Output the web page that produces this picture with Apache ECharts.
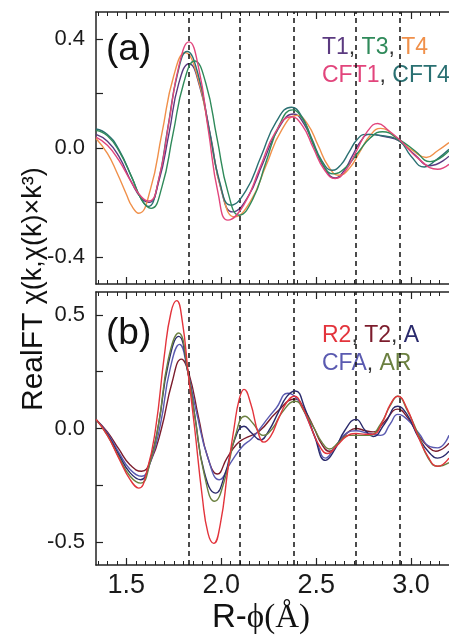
<!DOCTYPE html>
<html><head><meta charset="utf-8">
<script src="https://cdn.jsdelivr.net/npm/echarts@6/dist/echarts.min.js"></script>
<style>html,body{margin:0;padding:0;background:#fff}#c{width:449px;height:639px}</style>
</head><body><div id="c"></div><script>
// ---- data ----
const xMin = 1.34, xMax = 3.2;
const xTickValues = [1.5, 2.0, 2.5, 3.0];
const yTicksA = [-0.4, -0.2, 0, 0.2, 0.4];
const yLabelsA = [-0.4, 0, 0.4];
const yTicksB = [-0.5, -0.25, 0, 0.25, 0.5];
const yLabelsB = [-0.5, 0, 0.5];
const dashedX = [1.83, 2.097, 2.383, 2.707, 2.94];

// panel (a)
const T1 = [[1.34,0.05],[1.40,0.025],[1.46,-0.03],[1.53,-0.13],[1.58,-0.185],[1.62,-0.20],[1.67,-0.125],[1.725,0.055],[1.775,0.235],[1.83,0.31],[1.885,0.23],[1.945,0.04],[2.00,-0.155],[2.06,-0.235],[2.14,-0.18],[2.22,-0.055],[2.30,0.07],[2.38,0.125],[2.435,0.09],[2.49,0.005],[2.545,-0.075],[2.60,-0.11],[2.645,-0.085],[2.69,-0.03],[2.735,0.025],[2.78,0.05],[2.86,0.042],[2.94,0.025],[3.02,-0.025],[3.10,-0.065],[3.20,-0.03]];
const T3 = [[1.34,0.065],[1.40,0.045],[1.46,-0.01],[1.53,-0.11],[1.58,-0.19],[1.63,-0.222],[1.6875,-0.143],[1.745,0.049],[1.8025,0.24],[1.86,0.32],[1.919,0.237],[1.9775,0.0365],[2.036,-0.164],[2.095,-0.247],[2.165,-0.19],[2.235,-0.0535],[2.305,0.083],[2.375,0.14],[2.43,0.105],[2.48,0.0225],[2.535,-0.06],[2.59,-0.095],[2.655,-0.072],[2.72,-0.0175],[2.785,0.037],[2.85,0.06],[2.94,0.03],[3.02,-0.01],[3.10,-0.05],[3.20,-0.01]];
const T4 = [[1.34,0.035],[1.40,-0.02],[1.45,-0.09],[1.50,-0.17],[1.53,-0.215],[1.565,-0.24],[1.626,-0.154],[1.6875,0.055],[1.749,0.264],[1.81,0.35],[1.875,0.262],[1.94,0.0485],[2.005,-0.165],[2.07,-0.253],[2.1525,-0.198],[2.235,-0.0665],[2.3175,0.065],[2.40,0.12],[2.455,0.088],[2.51,0.01],[2.565,-0.068],[2.62,-0.10],[2.675,-0.075],[2.73,-0.014],[2.785,0.047],[2.84,0.072],[2.94,0.025],[3.01,-0.01],[3.08,-0.035],[3.14,-0.01],[3.20,0.02]];
const CFT1 = [[1.34,0.04],[1.40,0.01],[1.46,-0.045],[1.53,-0.13],[1.58,-0.18],[1.62,-0.195],[1.6725,-0.109],[1.725,0.0975],[1.7775,0.304],[1.83,0.39],[1.881,0.294],[1.9325,0.0625],[1.984,-0.169],[2.035,-0.265],[2.119,-0.209],[2.2025,-0.075],[2.286,0.059],[2.37,0.115],[2.4275,0.082],[2.485,0.0],[2.5425,-0.079],[2.60,-0.112],[2.656,-0.082],[2.7125,-0.011],[2.769,0.06],[2.825,0.09],[2.88,0.065],[2.94,0.03],[3.04,-0.04],[3.14,-0.078],[3.20,-0.06]];
const CFT4 = [[1.34,0.07],[1.40,0.05],[1.46,-0.005],[1.53,-0.11],[1.58,-0.19],[1.615,-0.215],[1.666,-0.131],[1.7175,0.07],[1.769,0.271],[1.82,0.355],[1.8775,0.272],[1.935,0.0725],[1.9925,-0.127],[2.05,-0.21],[2.13,-0.157],[2.21,-0.03],[2.29,0.097],[2.37,0.15],[2.424,0.116],[2.4775,0.034],[2.531,-0.048],[2.585,-0.082],[2.629,-0.063],[2.6725,-0.016],[2.716,0.031],[2.76,0.05],[2.85,0.045],[2.94,0.025],[3.00,-0.03],[3.07,-0.07],[3.13,-0.045],[3.20,-0.005]];

// panel (b)
const R2 = [[1.34,0.04],[1.40,-0.03],[1.46,-0.13],[1.52,-0.225],[1.565,-0.262],[1.61,-0.18],[1.654,0.0],[1.70,0.32],[1.735,0.51],[1.765,0.562],[1.795,0.47],[1.826,0.24],[1.86,0.0],[1.90,-0.30],[1.93,-0.46],[1.96,-0.505],[1.995,-0.42],[2.035,-0.18],[2.067,0.0],[2.095,0.13],[2.12,0.172],[2.155,0.11],[2.195,-0.02],[2.225,-0.06],[2.26,-0.035],[2.30,0.04],[2.345,0.115],[2.385,0.142],[2.43,0.09],[2.475,0.0],[2.52,-0.08],[2.56,-0.11],[2.61,-0.075],[2.66,-0.035],[2.71,-0.022],[2.76,-0.025],[2.80,-0.025],[2.85,0.03],[2.89,0.105],[2.93,0.142],[2.98,0.085],[3.03,-0.02],[3.09,-0.125],[3.14,-0.166],[3.20,-0.13]];
const T2 = [[1.34,0.04],[1.40,-0.015],[1.46,-0.09],[1.52,-0.16],[1.58,-0.188],[1.63,-0.14],[1.685,0.0],[1.74,0.2],[1.79,0.305],[1.83,0.24],[1.88,0.05],[1.93,-0.13],[1.98,-0.2],[2.03,-0.13],[2.08,-0.07],[2.12,-0.045],[2.20,-0.012],[2.29,0.07],[2.39,0.13],[2.44,0.08],[2.49,0.0],[2.53,-0.07],[2.57,-0.1],[2.62,-0.06],[2.67,-0.015],[2.71,0.0],[2.76,-0.01],[2.80,-0.015],[2.86,0.03],[2.93,0.085],[2.98,0.05],[3.04,-0.03],[3.09,-0.08],[3.13,-0.1],[3.20,-0.065]];
const A = [[1.34,0.04],[1.40,-0.025],[1.46,-0.115],[1.52,-0.195],[1.575,-0.225],[1.625,-0.14],[1.67,0.02],[1.72,0.28],[1.775,0.405],[1.826,0.24],[1.86,0.06],[1.91,-0.19],[1.97,-0.284],[2.02,-0.2],[2.07,-0.05],[2.12,0.01],[2.16,-0.02],[2.205,-0.05],[2.25,-0.01],[2.30,0.07],[2.345,0.14],[2.39,0.165],[2.44,0.09],[2.49,-0.03],[2.55,-0.14],[2.60,-0.09],[2.65,-0.01],[2.71,0.04],[2.76,-0.01],[2.80,-0.035],[2.86,0.02],[2.93,0.098],[2.98,0.06],[3.04,-0.04],[3.10,-0.11],[3.14,-0.13],[3.20,-0.1]];
const CFA = [[1.34,0.04],[1.40,-0.02],[1.46,-0.105],[1.52,-0.18],[1.58,-0.21],[1.63,-0.14],[1.68,0.02],[1.73,0.26],[1.78,0.37],[1.826,0.24],[1.87,0.07],[1.93,-0.13],[1.99,-0.225],[2.05,-0.15],[2.11,-0.08],[2.16,-0.045],[2.20,-0.005],[2.25,0.05],[2.29,0.09],[2.35,0.155],[2.40,0.13],[2.45,0.05],[2.50,-0.05],[2.55,-0.13],[2.60,-0.08],[2.66,-0.02],[2.71,-0.01],[2.77,-0.02],[2.84,-0.03],[2.89,0.02],[2.93,0.062],[2.98,0.04],[3.04,-0.02],[3.10,-0.08],[3.14,-0.085],[3.20,-0.03]];
const AR = [[1.34,0.04],[1.40,-0.03],[1.46,-0.125],[1.52,-0.21],[1.575,-0.24],[1.625,-0.15],[1.67,0.02],[1.72,0.30],[1.775,0.42],[1.826,0.24],[1.865,0.03],[1.91,-0.2],[1.965,-0.32],[2.02,-0.22],[2.075,-0.03],[2.125,0.054],[2.17,0.02],[2.22,-0.03],[2.27,0.0],[2.32,0.07],[2.39,0.12],[2.44,0.07],[2.49,0.0],[2.53,-0.06],[2.57,-0.09],[2.62,-0.06],[2.67,-0.03],[2.72,-0.03],[2.78,-0.03],[2.84,0.02],[2.89,0.1],[2.93,0.142],[2.98,0.08],[3.04,-0.03],[3.09,-0.13],[3.14,-0.166],[3.20,-0.15]];

const seriesA = [
  {name:'T1', data:T1, color:'#5b3a80'},
  {name:'T4', data:T4, color:'#f0904a'},
  {name:'CFT4', data:CFT4, color:'#2a7072'},
  {name:'T3', data:T3, color:'#2f8a5a'},
  {name:'CFT1', data:CFT1, color:'#e2457c'}
];
const seriesB = [
  {name:'T2', data:T2, color:'#7c1c2c'},
  {name:'CFA', data:CFA, color:'#5a5ab0'},
  {name:'A', data:A, color:'#2a2a6c'},
  {name:'AR', data:AR, color:'#6b8040'},
  {name:'R2', data:R2, color:'#e3343c'}
];

// ---- chart ----
const minorTicks = [];
for (let i = 27; i <= 64; i++) minorTicks.push(+(i * 0.05).toFixed(2));

const axisColor = '#222';
const font = '"Liberation Sans", Arial, sans-serif';
const serif = '"Liberation Serif", "Times New Roman", serif';

function xAxes(gi, showLabels) {
  const base = {type:'value', gridIndex:gi, min:xMin, max:xMax, splitLine:{show:false}};
  return [
    Object.assign({}, base, {position:'bottom',
      axisLine:{show:true, onZero:false, lineStyle:{color:axisColor, width:1.5}},
      axisTick:{show:true, inside:true, length:7, customValues:xTickValues, lineStyle:{color:axisColor, width:1.2}},
      axisLabel:{show:showLabels, customValues:xTickValues, formatter:v=>v.toFixed(1), fontSize:27, color:'#1a1a1a', fontFamily:font, margin:7}}),
    Object.assign({}, base, {position:'bottom',
      axisLine:{show:false, onZero:false},
      axisTick:{show:true, inside:true, length:4, customValues:minorTicks, lineStyle:{color:axisColor, width:1}},
      axisLabel:{show:false}}),
    Object.assign({}, base, {position:'top',
      axisLine:{show:true, onZero:false, lineStyle:{color:axisColor, width:1.5}},
      axisTick:{show:true, inside:true, length:7, customValues:xTickValues, lineStyle:{color:axisColor, width:1.2}},
      axisLabel:{show:false}}),
    Object.assign({}, base, {position:'top',
      axisLine:{show:false, onZero:false},
      axisTick:{show:true, inside:true, length:4, customValues:minorTicks, lineStyle:{color:axisColor, width:1}},
      axisLabel:{show:false}})
  ];
}
function yAxis(gi, mn, mx, ticks, labels) {
  return {type:'value', gridIndex:gi, min:mn, max:mx, position:'left', splitLine:{show:false},
    axisLine:{show:true, onZero:false, lineStyle:{color:axisColor, width:1.5}},
    axisTick:{show:true, inside:true, length:7, customValues:ticks, lineStyle:{color:axisColor, width:1.2}},
    axisLabel:{customValues:labels, formatter:v=>v.toFixed(1), fontSize:22, color:'#1a1a1a', fontFamily:font, margin:11}};
}
function mkSeries(list, xi, yi) {
  return list.map((s, i) => {
    const o = {type:'line', name:s.name, data:s.data, xAxisIndex:xi, yAxisIndex:yi,
      showSymbol:false, smooth:0.5, color:s.color, lineStyle:{width:1.4, color:s.color}, silent:true, z:3+i};
    if (i === 0) o.markLine = {silent:true, symbol:['none','none'], label:{show:false}, animation:false,
      lineStyle:{color:'#111', type:[5,4], width:1.5}, data:dashedX.map(v=>({xAxis:v}))};
    return o;
  });
}

const legFont = 23;
const r = (c) => ({fill:c, fontSize:legFont, fontFamily:font});
function legend(x, y, rich, text) {
  return {type:'text', x:x, y:y, silent:true, style:{text:text, rich:rich, fontSize:legFont, fontFamily:font, align:'left', verticalAlign:'middle'}};
}

const chart = echarts.init(document.getElementById('c'), null, {renderer:'canvas'});
chart.setOption({
  animation:false,
  backgroundColor:'#fff',
  grid:[{left:96, top:12, width:359.5, height:272}, {left:96, top:292, width:359.5, height:273}],
  xAxis: xAxes(0, false).concat(xAxes(1, true)),
  yAxis: [yAxis(0, -0.5, 0.5, yTicksA, yLabelsA), yAxis(1, -0.6, 0.6, yTicksB, yLabelsB)],
  series: mkSeries(seriesA, 0, 0).concat(mkSeries(seriesB, 4, 1)),
  graphic: [
    {type:'text', x:106, y:50, silent:true, style:{text:'(a)', fontSize:37, fontFamily:font, fill:'#111', align:'left', verticalAlign:'middle'}},
    {type:'text', x:106, y:334, silent:true, style:{text:'(b)', fontSize:37, fontFamily:font, fill:'#111', align:'left', verticalAlign:'middle'}},
    legend(322, 48, {a:r('#5b3a80'), b:r('#2f8a5a'), c:r('#f0904a'), k:r('#333')}, '{a|T1}{k|, }{b|T3}{k|, }{c|T4}'),
    legend(322, 76, {a:r('#e2457c'), b:r('#2a7072'), k:r('#333')}, '{a|CFT1}{k|, }{b|CFT4}'),
    legend(322, 336, {a:r('#e3343c'), b:r('#7c1c2c'), c:r('#2a2a6c'), k:r('#333')}, '{a|R2}{k|, }{b|T2}{k|, }{c|A}'),
    legend(322, 364, {a:r('#5a5ab0'), b:r('#6b8040'), k:r('#333')}, '{a|CFA}{k|, }{b|AR}'),
    {type:'text', x:34, y:411, rotation:Math.PI/2, silent:true, style:{text:'{r|RealFT }{c|χ(k,χ(k)×k³)}',
      rich:{r:{fontSize:30, fontFamily:font, fill:'#111'}, c:{fontSize:27, fontFamily:font, fill:'#111'}},
      align:'left', verticalAlign:'middle'}},
    {type:'text', x:261, y:618, silent:true, style:{text:'{s|R-}{t|ϕ(Å)}',
      rich:{s:{fontSize:33, fontFamily:font, fill:'#111'}, t:{fontSize:33, fontFamily:serif, fill:'#111'}},
      align:'center', verticalAlign:'middle'}}
  ]
});
</script></body></html>
